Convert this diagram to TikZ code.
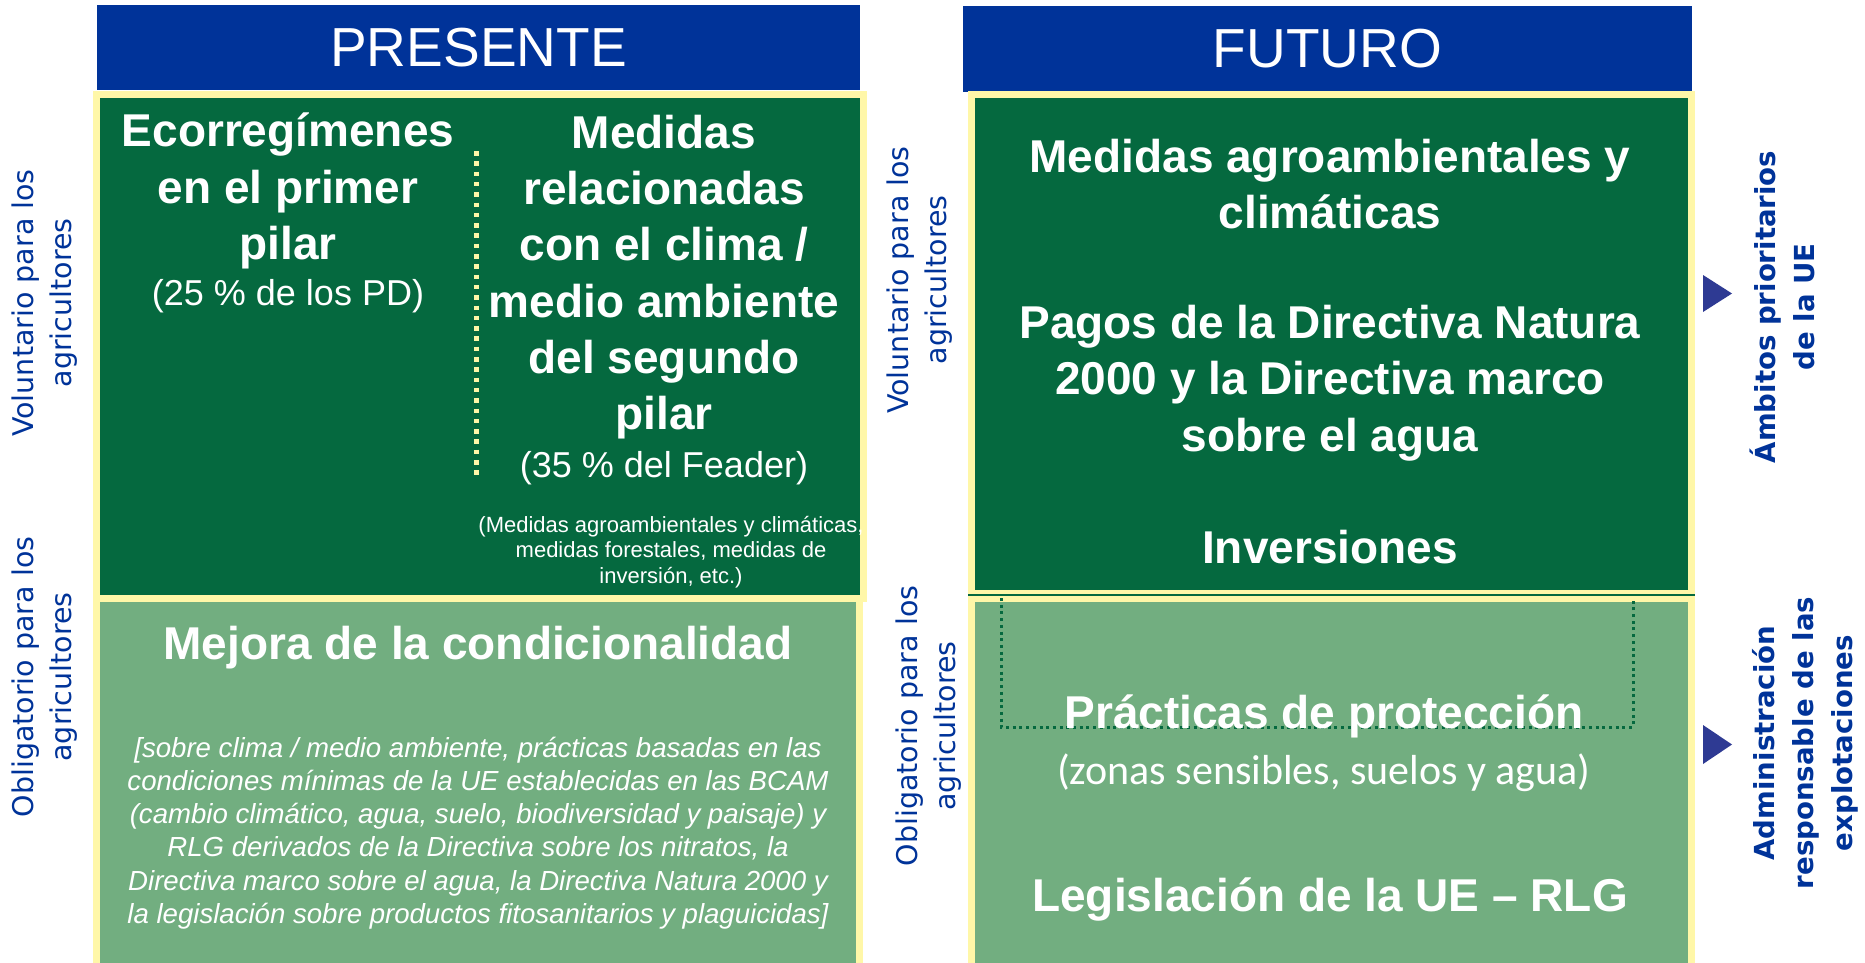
\documentclass[tikz,border=0pt]{standalone}
\usepackage{fontspec}
\setmainfont{Liberation Sans}
\newfontfamily\dejavu{DejaVu Sans}
\newfontfamily\carlito{Carlito}
\usetikzlibrary{positioning}
\definecolor{euBlue}{HTML}{003399}
\definecolor{darkGreen}{HTML}{05693F}
\definecolor{lightGreen}{HTML}{72AE80}
\definecolor{paleYellow}{HTML}{FFF7A8}
\definecolor{triBlue}{HTML}{2E3A93}
\tikzset{
header/.style = {rectangle, fill=euBlue, text=white, inner sep=0pt, font=\fontsize{55}{60}\selectfont},
panel/.style = {rectangle, draw=paleYellow, line width=7pt, inner sep=0pt},
darkpanel/.style = {panel, fill=darkGreen},
lightpanel/.style = {panel, fill=lightGreen},
bigtext/.style = {text=white, align=center, inner sep=0pt, font=\fontsize{46}{56.3}\selectfont\bfseries},
subtext/.style = {text=white, align=center, inner sep=0pt, font=\fontsize{36}{42}\selectfont},
smalltext/.style = {text=white, align=center, inner sep=0pt, font=\fontsize{22}{25.5}\selectfont},
rulestext/.style = {text=white, align=center, inner sep=0pt, font=\fontsize{27.6}{33.3}\selectfont\itshape},
sidelabel/.style = {text=euBlue, align=center, inner sep=0pt, rotate=90, font=\dejavu\fontsize{28.5}{38}\selectfont},
ambitlabel/.style = {text=euBlue, align=center, inner sep=0pt, rotate=90, font=\dejavu\bfseries\fontsize{27.6}{39}\selectfont},
arrowtri/.style = {fill=triBlue},
pillarsep/.style = {draw=paleYellow, line width=5pt, dash pattern=on 4.5pt off 5.8pt},
protbox/.style = {draw=darkGreen, line width=3pt, dash pattern=on 3pt off 3.7pt},
sepline/.style = {draw=darkGreen, line width=1.5pt}
}

\begin{document}
\begin{tikzpicture}[x=1pt, y=-1pt]
    \useasboundingbox (0,0) rectangle (1865,963);
    % The two headers
    \node [header, minimum width=763pt, minimum height=85pt] (present) at (478.5,47.5) {PRESENTE};
    \node [header, minimum width=729pt, minimum height=86pt] (futuro) at (1327.5,49) {FUTURO};

    % Panels, lower ones first so the upper frames lie on them
    \node [lightpanel, minimum width=763pt, minimum height=376.5pt] (pbot) at (478,786.75) {};
    \node [darkpanel, minimum width=767pt, minimum height=504pt] (ptop) at (480,346.5) {};
    \node [lightpanel, minimum width=719.5pt, minimum height=376.5pt] (fbot) at (1331.25,786.75) {};
    \node [darkpanel, minimum width=720pt, minimum height=498.5pt] (ftop) at (1331.5,344.25) {};

    % Present, upper panel
    \node [bigtext] (eco) at (288,191) {Ecorregímenes\\en el primer\\pilar};
    \node [subtext, below=10pt of eco] (pd) {(25 \% de los PD)};
    \node [bigtext] (med) at (664,277) {Medidas\\relacionadas\\con el clima /\\medio ambiente\\del segundo\\pilar};
    \node [subtext, below=11.5pt of med] (feader) {(35 \% del Feader)};
    \node [smalltext] (detail) at (671,552) {(Medidas agroambientales y climáticas,\\medidas forestales, medidas de\\inversión, etc.)};
    \coordinate (s1) at (476,151);
    \coordinate (s2) at (476,478);
    \draw [pillarsep] (s1) -- (s2);

    % Present, lower panel
    \node [bigtext] (mejora) at (478,648) {Mejora de la condicionalidad};
    \node [rulestext] (rules) at (478,833) {[sobre clima / medio ambiente, prácticas basadas en las\\condiciones mínimas de la UE establecidas en las BCAM\\(cambio climático, agua, suelo, biodiversidad y paisaje) y\\RLG derivados de la Directiva sobre los nitratos, la\\Directiva marco sobre el agua, la Directiva Natura 2000 y\\la legislación sobre productos fitosanitarios y plaguicidas]};

    % Future, upper panel
    \node [bigtext] (agro) at (1330,184) {Medidas agroambientales y\\climáticas};
    \node [bigtext] (natura) at (1330,383) {Pagos de la Directiva Natura\\2000 y la Directiva marco\\sobre el agua};
    \node [bigtext] (inv) at (1330,547) {Inversiones};

    % Future, lower panel
    \draw [sepline] (fbot.north west) -- (fbot.north east);
    \coordinate (d1) at (1001,598);
    \coordinate (d2) at (1001,727);
    \coordinate (d3) at (1633,727);
    \coordinate (d4) at (1633,598);
    \draw [protbox] (d1) -- (d2) -- (d3) -- (d4);
    \node [bigtext] (prot) at (1324,716) {Prácticas de protección};
    \node [subtext, font=\carlito\fontsize{42}{48}\selectfont] (zonas) at (1324,773) {(zonas sensibles, suelos y agua)};
    \node [bigtext] (leg) at (1330,899) {Legislación de la UE – RLG};

    % Side labels
    \node [sidelabel] (vol1) at (45,303) {Voluntario para los\\agricultores};
    \node [sidelabel] (obl1) at (45,677) {Obligatorio para los\\agricultores};
    \node [sidelabel] (vol2) at (920,280) {Voluntario para los\\agricultores};
    \node [sidelabel] (obl2) at (929,726) {Obligatorio para los\\agricultores};
    \node [ambitlabel] (ambit) at (1782,307) {Ámbitos prioritarios\\de la UE};
    \node [ambitlabel] (admin) at (1805,743) {Administración\\responsable de las\\explotaciones};
    \fill [arrowtri] (1703,275) -- (1732,293.5) -- (1703,312) -- cycle;
    \fill [arrowtri] (1703,725) -- (1732,744.5) -- (1703,764) -- cycle;
\end{tikzpicture}
\end{document}
